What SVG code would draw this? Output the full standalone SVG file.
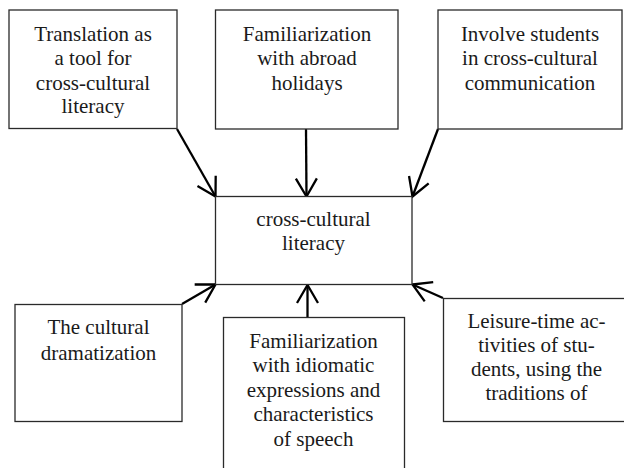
<svg xmlns="http://www.w3.org/2000/svg" width="624" height="468" viewBox="0 0 624 468">
  <style>
    .box { fill: #ffffff; stroke: #2a2a2a; stroke-width: 1.3; }
    .lbl { font-family: "Liberation Serif", "Times New Roman", serif; font-size: 21px; fill: #1a1a1a; text-anchor: middle; }
    .conn { stroke: #000000; stroke-width: 2.3; fill: none; marker-end: url(#arr); }
  </style>
  <defs>
    <marker id="arr" markerUnits="userSpaceOnUse" viewBox="-22 -14 26 28" refX="0" refY="0" markerWidth="26" markerHeight="28" orient="auto">
      <path d="M-18,-10.5 L0,0 L-18,10.5" fill="none" stroke="#000" stroke-width="2.3" stroke-linejoin="miter"/>
    </marker>
    <clipPath id="clipR">
      <rect x="443" y="298" width="190" height="115"/>
    </clipPath>
  </defs>
  <rect width="624" height="468" fill="#ffffff"/>

  <g id="connectors">
    <line class="conn" x1="177" y1="129" x2="215.5" y2="196.5"/>
    <line class="conn" x1="306" y1="129" x2="306.5" y2="196.5"/>
    <line class="conn" x1="438" y1="129" x2="412.5" y2="196.5"/>
    <line class="conn" x1="182" y1="304" x2="215.5" y2="284.5"/>
    <line class="conn" x1="307.5" y1="317.5" x2="307.5" y2="285"/>
    <line class="conn" x1="443" y1="298" x2="412.5" y2="284.5"/>
  </g>

  <g id="n-translation">
    <rect class="box" x="9" y="10" width="168" height="118.5"/>
    <text class="lbl" x="93" y="40.5">Translation as</text>
    <text class="lbl" x="93" y="65">a tool for</text>
    <text class="lbl" x="93" y="89.5">cross-cultural</text>
    <text class="lbl" x="93" y="113">literacy</text>
  </g>

  <g id="n-holidays">
    <rect class="box" x="215.5" y="10" width="182.5" height="119"/>
    <text class="lbl" x="307" y="40.5">Familiarization</text>
    <text class="lbl" x="307" y="65">with abroad</text>
    <text class="lbl" x="307" y="89.5">holidays</text>
  </g>

  <g id="n-involve">
    <rect class="box" x="438" y="10" width="184" height="119"/>
    <text class="lbl" x="530" y="40.5">Involve students</text>
    <text class="lbl" x="530" y="65">in cross-cultural</text>
    <text class="lbl" x="530" y="89.5">communication</text>
  </g>

  <g id="n-center">
    <rect class="box" x="215.5" y="196.5" width="196.5" height="88"/>
    <text class="lbl" x="313.5" y="226">cross-cultural</text>
    <text class="lbl" x="313.5" y="250">literacy</text>
  </g>

  <g id="n-dramatization">
    <rect class="box" x="15" y="304.5" width="167" height="117"/>
    <text class="lbl" x="98.5" y="334">The cultural</text>
    <text class="lbl" x="98.5" y="360">dramatization</text>
  </g>

  <g id="n-idiomatic">
    <rect class="box" x="223.5" y="317.5" width="181" height="160"/>
    <text class="lbl" x="313.5" y="347.5">Familiarization</text>
    <text class="lbl" x="313.5" y="372">with idiomatic</text>
    <text class="lbl" x="313.5" y="396.5">expressions and</text>
    <text class="lbl" x="313.5" y="421">characteristics</text>
    <text class="lbl" x="313.5" y="445.5">of speech</text>
  </g>

  <g id="n-leisure">
    <rect class="box" x="443.5" y="298.5" width="190" height="123"/>
    <g clip-path="url(#clipR)">
      <text class="lbl" x="536.5" y="328">Leisure-time ac-</text>
      <text class="lbl" x="536.5" y="352">tivities of stu-</text>
      <text class="lbl" x="536.5" y="376">dents, using the</text>
      <text class="lbl" x="536.5" y="400">traditions of</text>
    </g>
  </g>
</svg>
